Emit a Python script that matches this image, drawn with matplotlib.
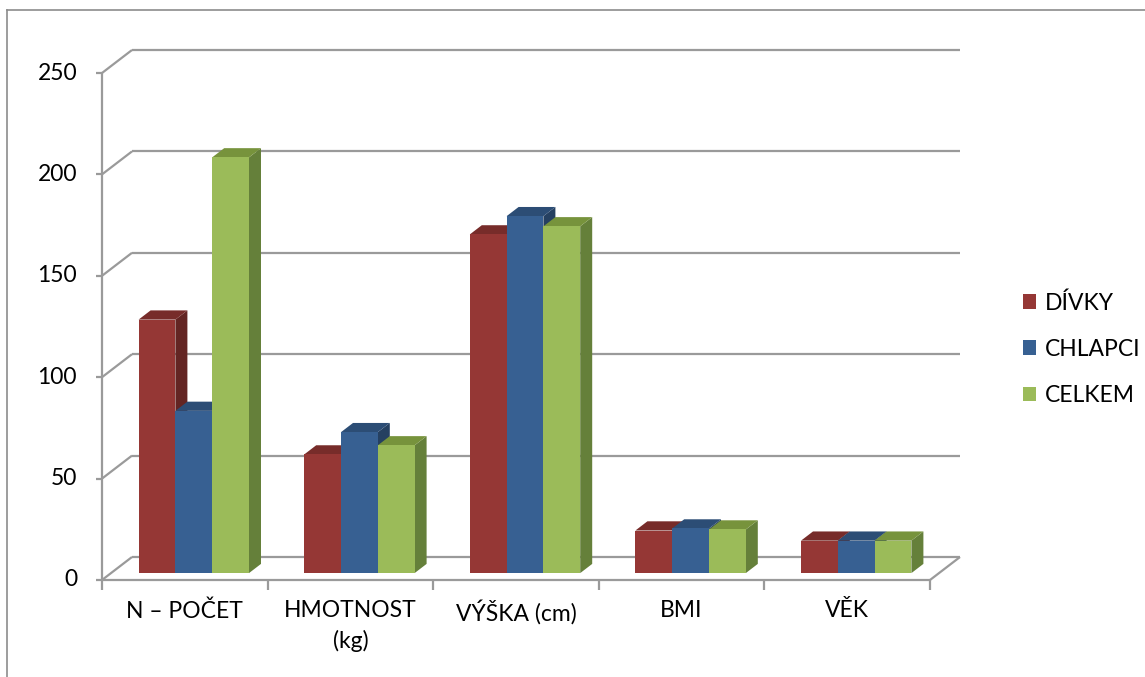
import matplotlib.pyplot as plt
from matplotlib.patches import Polygon, Patch

categories = ['N – POČET', 'HMOTNOST\n(kg)', 'VÝŠKA (cm)', 'BMI', 'VĚK']
series = ['DÍVKY', 'CHLAPCI', 'CELKEM']
divky = [125, 58.5, 167, 21, 16]
chlapci = [80, 69.5, 176, 22, 16]
celkem = [205, 63, 171, 21.5, 16]
y_ticks = [0, 50, 100, 150, 200, 250]

front_colors = ['#953735', '#376092', '#9BBB59']
top_colors = ['#772C2A', '#2C4D75', '#77933C']
side_colors = ['#632523', '#254061', '#65803A']
grid_color = '#9A9A9A'

plt.rcParams['font.family'] = ['Lato', 'DejaVu Sans']

W, H = 1145, 677
fig = plt.figure(figsize=(W / 100, H / 100), dpi=100)
ax = fig.add_axes([0, 0, 1, 1])

# front-left floor corner sits at (102, 580) px; one category = 165.6 px, one unit = 2.028 px
x0_px, y0_px = 102, 580
cat_px, unit_px = 165.6, 2.028
ax.set_xlim(-x0_px / cat_px, (W - x0_px) / cat_px)
ax.set_ylim((y0_px - H) / unit_px, y0_px / unit_px)
ax.axis('off')

# oblique depth of the chart box, in data units
DX, DY = 30 / cat_px, 23 / unit_px
n = len(categories)
vmax = y_ticks[-1]


def proj(x, v, d):
    return (x + d * DX, v + d * DY)


def line(p, q, **kw):
    ax.plot([p[0], q[0]], [p[1], q[1]], color=grid_color, lw=1.6,
            solid_capstyle='butt', zorder=1, **kw)


# back wall and left wall gridlines
for t in y_ticks:
    line(proj(0, t, 1), proj(n, t, 1))
    line(proj(0, t, 0), proj(0, t, 1))

# floor edges
line(proj(0, 0, 0), proj(n, 0, 0))
line(proj(n, 0, 0), proj(n, 0, 1))

# value axis with ticks and labels
line(proj(0, 0, 0), proj(0, vmax, 0))
for t in y_ticks:
    line((-6 / cat_px, t), (0, t))
    ax.text(-25 / cat_px, t, str(t), ha='right', va='center', fontsize=16.5)

# category ticks and labels
for i in range(n + 1):
    line((i, 0), (i, -10 / unit_px))
for i, c in enumerate(categories):
    ax.text(i + 0.5, -20 / unit_px, c, ha='center', va='top', fontsize=16.5,
            linespacing=1.5)

# 3D columns: front, top and right side faces
values = [divky, chlapci, celkem]
bar_w = (2 / 3) / len(series)
d0, d1 = 0.3, 0.7
for i in range(n):
    for j, vals in enumerate(values):
        v = vals[i]
        xl = i + 1 / 6 + j * bar_w
        xr = xl + bar_w
        front = [proj(xl, 0, d0), proj(xr, 0, d0), proj(xr, v, d0), proj(xl, v, d0)]
        top = [proj(xl, v, d0), proj(xr, v, d0), proj(xr, v, d1), proj(xl, v, d1)]
        side = [proj(xr, 0, d0), proj(xr, 0, d1), proj(xr, v, d1), proj(xr, v, d0)]
        ax.add_patch(Polygon(side, closed=True, fc=side_colors[j], ec='none', zorder=3))
        ax.add_patch(Polygon(top, closed=True, fc=top_colors[j], ec='none', zorder=3))
        ax.add_patch(Polygon(front, closed=True, fc=front_colors[j], ec='none', zorder=3))

# outer chart border
fig.add_artist(plt.Line2D([7 / W, 7 / W], [0, 1 - 10 / H], color='#8C8C8C', lw=1.2))
fig.add_artist(plt.Line2D([7 / W, 1], [1 - 10 / H, 1 - 10 / H], color='#8C8C8C', lw=1.2))

handles = [Patch(fc=c, ec='none') for c in front_colors]
fig.legend(handles, series, loc='center left', bbox_to_anchor=(1002 / W, 1 - 349 / H),
           frameon=False, fontsize=16.5, handlelength=0.6, handleheight=0.6,
           handletextpad=0.35, labelspacing=1.1)

fig.savefig('out.png', dpi=100)
